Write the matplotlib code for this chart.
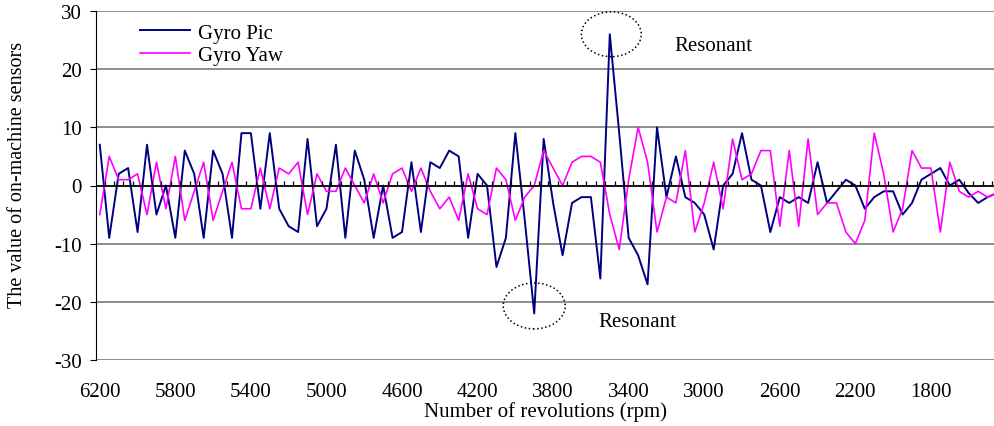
import numpy as np
import matplotlib.pyplot as plt
from matplotlib.patches import Ellipse

plt.rcParams['font.family'] = ['Liberation Serif', 'DejaVu Serif']
plt.rcParams['axes.unicode_minus'] = False

# categories: rotation speed, one reading every 50 rpm
rpm = np.arange(6200, 1400, -50)
tick_rpm = [6200, 5800, 5400, 5000, 4600, 4200, 3800, 3400, 3000, 2600, 2200, 1800]
tick_labels = [str(v) for v in tick_rpm]

gyro_pic = [7, -9, 2, 3, -8, 7, -5, 0, -9, 6,
            2, -9, 6, 2, -9, 9, 9, -4, 9, -4,
            -7, -8, 8, -7, -4, 7, -9, 6, 1, -9,
            0, -9, -8, 4, -8, 4, 3, 6, 5, -9,
            2, 0, -14, -9, 9, -6, -22, 8, -3, -12,
            -3, -2, -2, -16, 26, 9, -9, -12, -17, 10,
            -2, 5, -2, -3, -5, -11, 0, 2, 9, 1,
            0, -8, -2, -3, -2, -3, 4, -3, -1, 1,
            0, -4, -2, -1, -1, -5, -3, 1, 2, 3,
            0, 1, -1.3, -3, -2, -1.3]

gyro_yaw = [-5, 5, 1, 1, 2, -5, 4, -4, 5, -6,
            -1, 4, -6, -1, 4, -4, -4, 3, -4, 3,
            2, 4, -5, 2, -1, -1, 3, 0, -3, 2,
            -3, 2, 3, -1, 3, -1, -4, -2, -6, 2,
            -4, -5, 3, 1, -6, -2, 0, 6, 3, 0,
            4, 5, 5, 4, -5, -11, 1, 10, 4, -8,
            -2, -3, 6, -8, -3, 4, -4, 8, 1, 2,
            6, 6, -7, 6, -7, 8, -5, -3, -3, -8,
            -10, -6, 9, 2, -8, -4, 6, 3, 3, -8,
            4, -1, -2, -1, -2, -1.3]

fig = plt.figure(figsize=(9.94, 4.27), dpi=100)
ax = fig.add_axes([96 / 994, 66 / 427, 898 / 994, 349 / 427])

ax.plot(rpm, gyro_pic, color='#000080', lw=1.4, label='Gyro Pic')
ax.plot(rpm, gyro_yaw, color='#FF00FF', lw=1.2, label='Gyro Yaw')

ax.set_xlim(6220, 1466)
ax.set_ylim(-30, 30)
ax.set_yticks(range(-30, 31, 10))
ax.set_xticks(tick_rpm)
ax.set_xticklabels(tick_labels)

# horizontal gridlines, black zero axis with small category ticks
ax.yaxis.grid(True, color='#7a7a7a', lw=1.2)
ax.set_axisbelow(True)
ax.axhline(0, color='black', lw=1.2)
bounds = np.append(rpm + 25, rpm[-1] - 25)
ax.vlines(bounds, 0, 0.7, color='black', lw=0.9)

for s in ['top', 'right', 'bottom']:
    ax.spines[s].set_visible(False)
ax.spines['left'].set_color('black')
ax.tick_params(axis='x', length=0, pad=16, labelsize=15)
ax.tick_params(axis='y', direction='out', length=4, pad=6, labelsize=15)

ax.set_xlabel('Number of revolutions (rpm)', fontsize=15, labelpad=0)
fig.text(18 / 994, 1 - 175 / 427, 'The value of on-machine sensors',
         rotation=90, ha='center', va='center', fontsize=14.5)

# resonance markers
ax.add_patch(Ellipse((3492, 26.0), 317, 7.7, fill=False, ls=':', lw=1.1, color='black'))
ax.add_patch(Ellipse((3900, -20.7), 328, 7.9, fill=False, ls=':', lw=1.1, color='black'))
ax.text(2954, 24.0, 'Resonant', ha='center', va='center', fontsize=15)
ax.text(3352, -23.4, 'Resonant', ha='center', va='center', fontsize=15)

ax.legend(loc='upper left', bbox_to_anchor=(140 / 994, 1 - 24 / 427),
          bbox_transform=fig.transFigure, frameon=False, fontsize=15,
          handlelength=2.4, handletextpad=0.4, labelspacing=0.15,
          borderpad=0, borderaxespad=0)

fig.savefig('out.png', dpi=100)
